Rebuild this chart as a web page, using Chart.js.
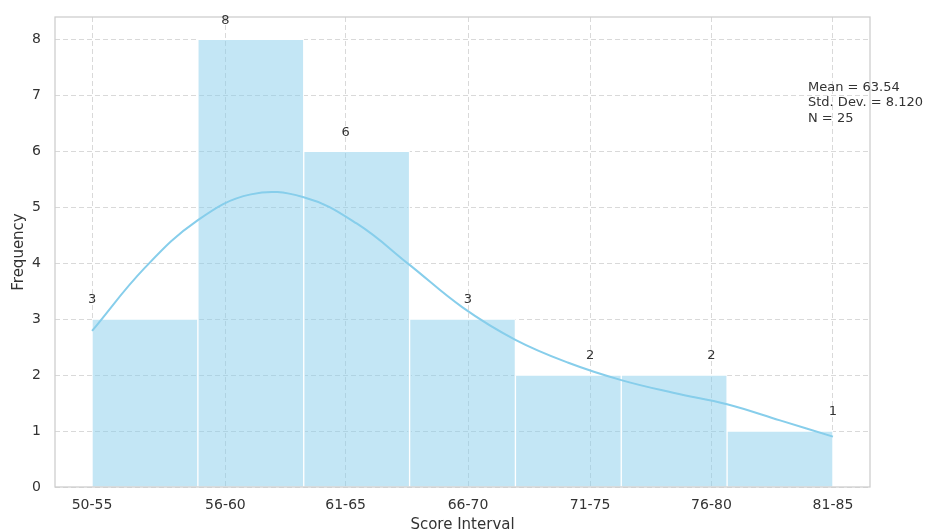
<!DOCTYPE html>
<html>
<head>
<meta charset="utf-8">
<script src="https://cdn.jsdelivr.net/npm/chart.js@4/dist/chart.umd.min.js"></script>
<style>
  html, body { margin: 0; padding: 0; background: #ffffff; }
  #wrap { width: 925px; height: 531px; }
</style>
</head>
<body>
<div id="wrap"><canvas id="chart" width="925" height="531"></canvas></div>
<script>
// Score intervals and how many students fall in each one
const intervals = ['50-55', '56-60', '61-65', '66-70', '71-75', '76-80', '81-85'];
const counts = [3, 8, 6, 3, 2, 2, 1];

// Bin centres on the bin axis (each bin is one unit wide, starting at 0)
const binCenters = [0.5, 1.5, 2.5, 3.5, 4.5, 5.5, 6.5];

// Where the interval names sit along the bin axis
const tickPositions = [0, 1.26, 2.396, 3.552, 4.706, 5.852, 7.0];

// Smoothed density estimate, scaled to counts
const kdeX = [0, 0.5, 1.0, 1.5, 2.0, 2.5, 3.0, 3.5, 4.0, 4.5, 5.0, 5.5, 6.0, 6.5, 7.0];
const kdeY = [2.79, 3.92, 4.77, 5.23, 5.18, 4.71, 3.97, 3.21, 2.63, 2.22, 1.91, 1.68, 1.48, 1.19, 0.9];

// Summary statistics
const statLines = ['Mean = 63.54', 'Std. Dev. = 8.120', 'N = 25'];

const FONT = 'DejaVu Sans';
const TEXT = '#333333';
const SKY = '#87CEEB';

const framePlugin = {
  id: 'frame',
  afterDatasetsDraw(chart) {
    const { ctx, chartArea: a, scales } = chart;
    // frame around the plotting area
    ctx.save();
    ctx.strokeStyle = '#cccccc';
    ctx.lineWidth = 1.25;
    ctx.strokeRect(a.left, a.top, a.right - a.left, a.bottom - a.top);

    // count labels above each interval
    ctx.fillStyle = TEXT;
    ctx.font = '13px "' + FONT + '"';
    ctx.textAlign = 'center';
    ctx.textBaseline = 'middle';
    counts.forEach((c, i) => {
      const x = scales.x.getPixelForValue(tickPositions[i]);
      const y = scales.y.getPixelForValue(c + 0.34);
      ctx.fillText(String(c), x, y);
    });

    // summary statistics block
    ctx.textAlign = 'left';
    statLines.forEach((s, i) => {
      ctx.fillText(s, 808, 87.5 + i * 15.5);
    });
    ctx.restore();
  }
};

new Chart(document.getElementById('chart'), {
  type: 'line',
  data: {
    datasets: [
      {
        type: 'line',
        label: 'KDE',
        data: kdeX.map((x, i) => ({ x: x, y: kdeY[i] })),
        borderColor: SKY,
        borderWidth: 2,
        pointRadius: 0,
        fill: false,
        tension: 0.4
      },
      {
        type: 'bar',
        label: 'Frequency',
        data: binCenters.map((x, i) => ({ x: x, y: counts[i] })),
        backgroundColor: 'rgba(135, 206, 235, 0.5)',
        borderColor: '#ffffff',
        borderWidth: 1,
        borderSkipped: 'bottom',
        barPercentage: 1,
        categoryPercentage: 1
      }
    ]
  },
  options: {
    responsive: false,
    animation: false,
    layout: { padding: { left: 0, top: 17, right: 55, bottom: 0 } },
    plugins: { legend: { display: false }, tooltip: { enabled: false } },
    scales: {
      x: {
        type: 'linear',
        min: -0.35,
        max: 7.35,
        offset: false,
        afterBuildTicks(scale) {
          scale.ticks = tickPositions.map(v => ({ value: v }));
        },
        afterFit(scale) {
          scale.height = 44;
          scale.paddingLeft = 0;
          scale.paddingRight = 0;
        },
        ticks: {
          autoSkip: false,
          maxRotation: 0,
          padding: 10,
          color: TEXT,
          font: { family: FONT, size: 14 },
          callback: (value, index) => intervals[index]
        },
        grid: {
          offset: false,
          drawTicks: false,
          color: 'rgba(204,204,204,0.75)',
          lineWidth: 1
        },
        border: { display: false, dash: [5, 3] },
        title: {
          display: true,
          text: 'Score Interval',
          color: TEXT,
          font: { family: FONT, size: 15, lineHeight: 1.0 },
          padding: { top: 0, bottom: -1.5 }
        }
      },
      y: {
        min: 0,
        max: 8.4,
        afterFit(scale) {
          scale.width = 55;
          scale.paddingTop = 0;
          scale.paddingBottom = 0;
        },
        ticks: {
          stepSize: 1,
          includeBounds: false,
          padding: 14,
          color: TEXT,
          font: { family: FONT, size: 14 }
        },
        grid: {
          drawTicks: false,
          color: 'rgba(204,204,204,0.75)',
          lineWidth: 1
        },
        border: { display: false, dash: [5, 3] },
        title: {
          display: true,
          text: 'Frequency',
          color: TEXT,
          font: { family: FONT, size: 15, lineHeight: 1.2 },
          padding: { top: 10.5, bottom: 0 }
        }
      }
    }
  },
  plugins: [framePlugin]
});
</script>
</body>
</html>
